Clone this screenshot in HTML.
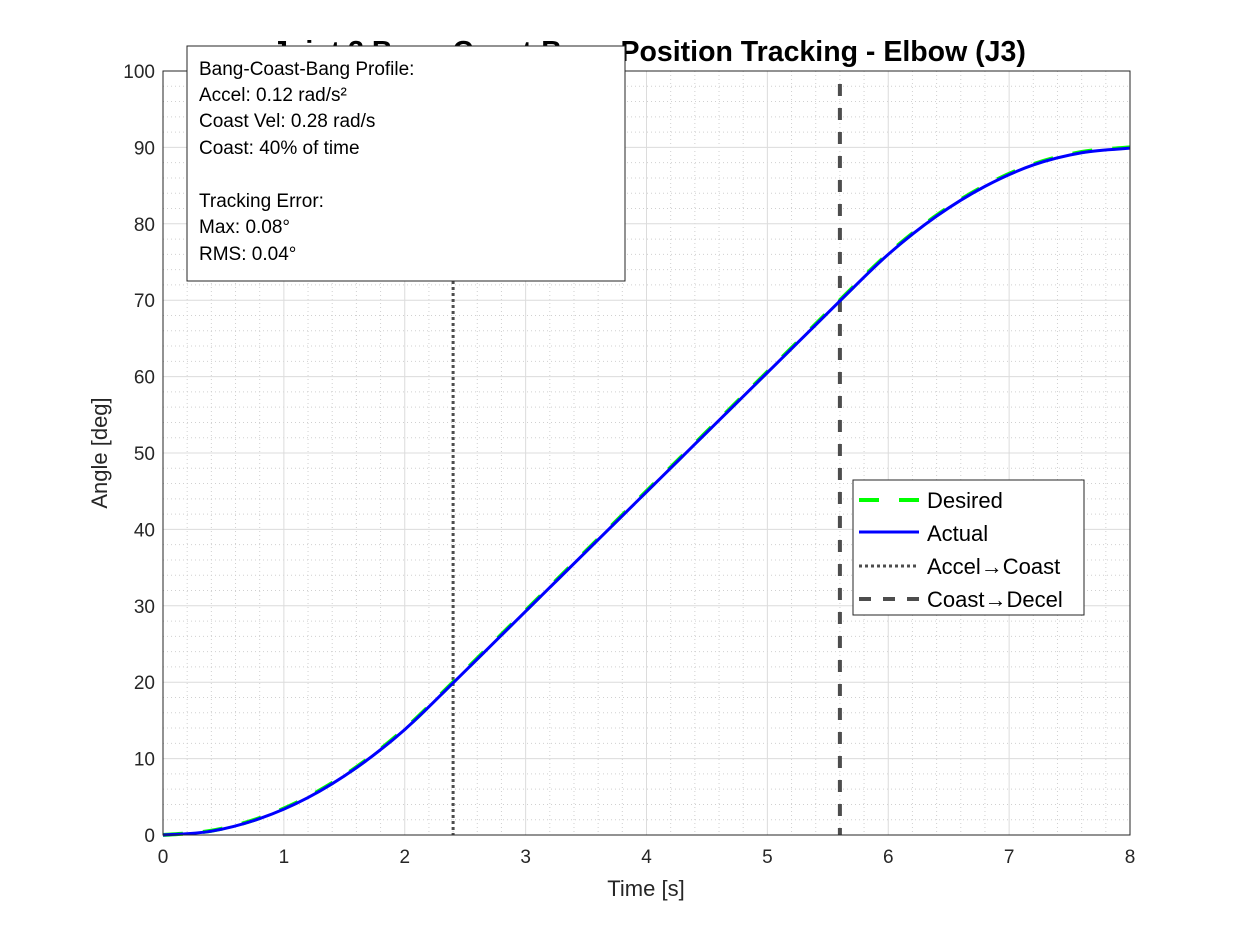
<!DOCTYPE html>
<html><head><meta charset="utf-8"><style>
body{margin:0;background:#fff;font-family:"Liberation Sans",sans-serif}
svg text{font-family:"Liberation Sans",sans-serif}
</style></head><body>
<svg id="chart" width="1250" height="938" xmlns="http://www.w3.org/2000/svg">
<rect width="1250" height="938" fill="#fff"/>
<g id="grid"></g><g id="ticks"></g><g id="series"></g>
<rect x="163" y="71" width="967" height="764" fill="none" stroke="#262626" stroke-width="1"/>
<text x="649" y="61" font-size="28.5" font-weight="bold" text-anchor="middle" fill="#000">Joint 3 Bang-Coast-Bang Position Tracking - Elbow (J3)</text>
<text x="646" y="896" font-size="22" text-anchor="middle" fill="#262626">Time [s]</text>
<text transform="translate(107,453) rotate(-90)" font-size="22" text-anchor="middle" fill="#262626">Angle [deg]</text>
<g>
<rect x="187" y="46" width="438" height="235" fill="#fff" stroke="#262626" stroke-width="1"/>
<text x="199" y="75" font-size="19" fill="#000">Bang-Coast-Bang Profile:</text>
<text x="199" y="101" font-size="19" fill="#000">Accel: 0.12 rad/s²</text>
<text x="199" y="127" font-size="19" fill="#000">Coast Vel: 0.28 rad/s</text>
<text x="199" y="154" font-size="19" fill="#000">Coast: 40% of time</text>
<text x="199" y="207" font-size="19" fill="#000">Tracking Error:</text>
<text x="199" y="233" font-size="19" fill="#000">Max: 0.08°</text>
<text x="199" y="260" font-size="19" fill="#000">RMS: 0.04°</text>
</g>
<g>
<rect x="853" y="480" width="231" height="135" fill="#fff" stroke="#262626" stroke-width="1"/>
<line x1="859" y1="500" x2="919" y2="500" stroke="#00ff00" stroke-width="4" stroke-dasharray="20,20"/>
<text x="927" y="508" font-size="22" fill="#000">Desired</text>
<line x1="859" y1="532" x2="919" y2="532" stroke="#0000ff" stroke-width="3"/>
<text x="927" y="541" font-size="22" fill="#000">Actual</text>
<line x1="859" y1="566" x2="919" y2="566" stroke="#4d4d4d" stroke-width="3" stroke-dasharray="3,3"/>
<text x="927" y="574" font-size="22" fill="#000">Accel→Coast</text>
<line x1="859" y1="599" x2="919" y2="599" stroke="#4d4d4d" stroke-width="4" stroke-dasharray="12,12"/>
<text x="927" y="607" font-size="22" fill="#000">Coast→Decel</text>
</g>
</svg>
<script>
const timeS=[0,0.4,0.8,1.2,1.6,2.0,2.4,2.8,3.2,3.6,4.0,4.4,4.8,5.2,5.6,6.0,6.4,6.8,7.2,7.6,8.0];
const desiredDeg=[0,0.56,2.22,5,8.89,13.9,20,26.25,32.5,38.75,45,51.25,57.5,63.75,70,76.1,81.1,85,87.8,89.4,90];
const actualDeg=[0,0.5,2.15,4.9,8.8,13.8,19.9,26.15,32.4,38.65,44.9,51.15,57.4,63.65,69.9,76.0,81.0,84.9,87.7,89.3,89.9];
const xTicks=[0,1,2,3,4,5,6,7,8];
const yTicks=[0,10,20,30,40,50,60,70,80,90,100];
const accelCoastT=2.4, coastDecelT=5.6;
const X0=163,X1=1130,Y0=835,Y1=71;
const xs=t=>X0+(t-0)/8*(X1-X0);
const ys=v=>Y0-(v-0)/100*(Y0-Y1);
const NS="http://www.w3.org/2000/svg";
function mk(tag,attrs,parent){const e=document.createElementNS(NS,tag);for(const k in attrs)e.setAttribute(k,attrs[k]);parent.appendChild(e);return e;}
const grid=document.getElementById('grid'),ticks=document.getElementById('ticks'),series=document.getElementById('series');
for(let i=0;i<=40;i++){const t=i*0.2;if(i%5)mk('line',{x1:xs(t),x2:xs(t),y1:Y1,y2:Y0,stroke:'#d0d0d0','stroke-width':1,'stroke-dasharray':'1,3'},grid);}
for(let i=0;i<=50;i++){const v=i*2;if(i%5)mk('line',{x1:X0,x2:X1,y1:ys(v),y2:ys(v),stroke:'#d0d0d0','stroke-width':1,'stroke-dasharray':'1,3'},grid);}
xTicks.forEach(t=>{
 mk('line',{x1:xs(t),x2:xs(t),y1:Y1,y2:Y0,stroke:'#dcdcdc','stroke-width':1},grid);
 const tx=mk('text',{x:xs(t),y:Y0+28,'font-size':19,'text-anchor':'middle',fill:'#262626'},ticks);tx.textContent=t;
 
 
});
yTicks.forEach(v=>{
 mk('line',{x1:X0,x2:X1,y1:ys(v),y2:ys(v),stroke:'#dcdcdc','stroke-width':1},grid);
 const tx=mk('text',{x:X0-8,y:ys(v)+7,'font-size':19,'text-anchor':'end',fill:'#262626'},ticks);tx.textContent=v;
 
 
});
function smooth(tv,vv){const p=tv.map((t,i)=>[xs(t),ys(vv[i])]);let d=`M${p[0][0]},${p[0][1]}`;
 for(let i=0;i<p.length-1;i++){const a=p[Math.max(0,i-1)],b=p[i],c=p[i+1],e=p[Math.min(p.length-1,i+2)];
 d+=` C${b[0]+(c[0]-a[0])/6},${b[1]+(c[1]-a[1])/6} ${c[0]-(e[0]-b[0])/6},${c[1]-(e[1]-b[1])/6} ${c[0]},${c[1]}`;}return d;}
const l1=mk('line',{x1:xs(accelCoastT),x2:xs(accelCoastT),y1:Y1,y2:Y0,stroke:'#4d4d4d','stroke-width':3,'stroke-dasharray':'3,3'},series);


const l2=mk('line',{x1:xs(coastDecelT),x2:xs(coastDecelT),y1:84,y2:Y0,stroke:'#4d4d4d','stroke-width':4,'stroke-dasharray':'12,12'},series);


const pd=mk('path',{d:smooth(timeS,desiredDeg),fill:'none',stroke:'#00ff00','stroke-width':4,'stroke-dasharray':'20,20'},series);


const pa=mk('path',{d:smooth(timeS,actualDeg),fill:'none',stroke:'#0000ff','stroke-width':3},series);


</script>
</body></html>
